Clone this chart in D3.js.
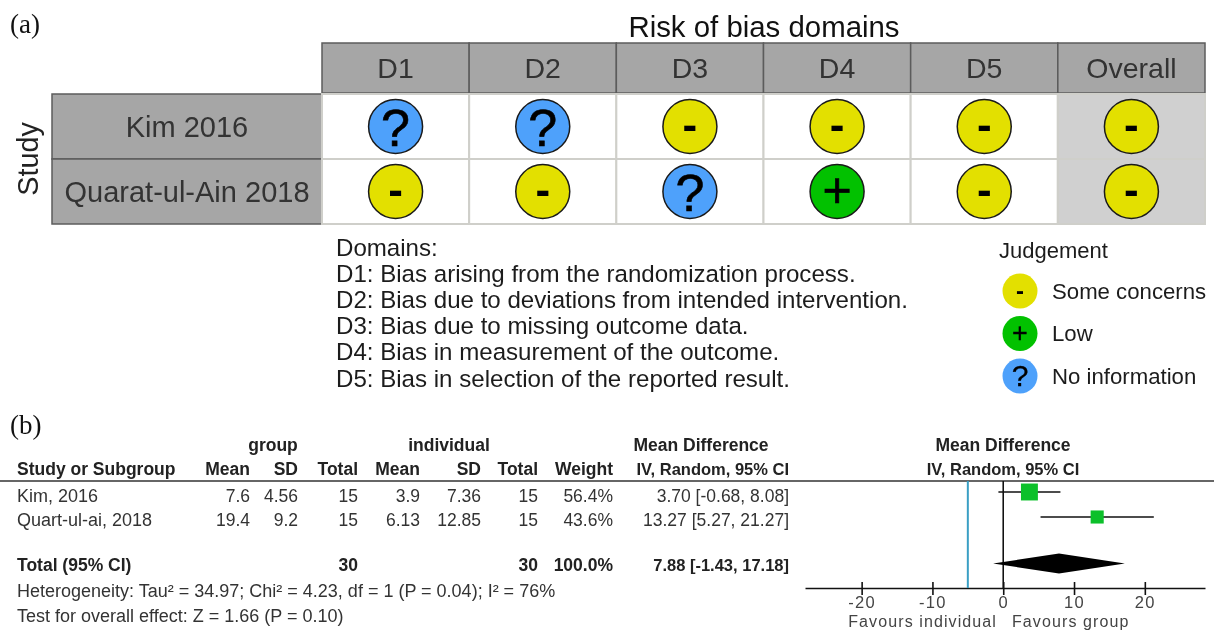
<!DOCTYPE html>
<html>
<head>
<meta charset="utf-8">
<style>
    html, body { margin: 0; padding: 0; background: #fff; overflow: hidden; }
    svg { display: block; filter: blur(0.4px); }
    text { font-family: "Liberation Sans", Arial, sans-serif; }
</style>
<script src="https://d3js.org/d3.v7.min.js"></script>
</head>
<body>
<svg></svg>
<script>
// Panel (a): risk of bias data
const domains = ["D1", "D2", "D3", "D4", "D5", "Overall"];
const studies = ["Kim 2016", "Quarat-ul-Ain 2018"];
const judgements = [
    ["?", "?", "-", "-", "-", "-"],
    ["-", "-", "?", "+", "-", "-"]
];
const domainNotes = [
    "Domains:",
    "D1: Bias arising from the randomization process.",
    "D2: Bias due to deviations from intended intervention.",
    "D3: Bias due to missing outcome data.",
    "D4: Bias in measurement of the outcome.",
    "D5: Bias in selection of the reported result."
];
const legendSymbols = ["-", "+", "?"];
const legendLabels = ["Some concerns", "Low", "No information"];

// Panel (b): forest plot data
const forestStudies = ["Kim, 2016", "Quart-ul-ai, 2018"];
const groupMean = ["7.6", "19.4"];
const groupSD = ["4.56", "9.2"];
const groupTotal = ["15", "15"];
const indivMean = ["3.9", "6.13"];
const indivSD = ["7.36", "12.85"];
const indivTotal = ["15", "15"];
const weights = [56.4, 43.6];
const meanDiff = [3.70, 13.27];
const ciLow = [-0.68, 5.27];
const ciHigh = [8.08, 21.27];
const totalMean = 7.88, totalLow = -1.43, totalHigh = 17.18;
const axisTicks = [-20, -10, 0, 10, 20];

const width = 1214, height = 631;
const svg = d3.select("svg").attr("width", width).attr("height", height);

const symbolColor = {"-": "#e3e000", "+": "#02c100", "?": "#4ea1fb"};

function label(sel, x, y, str, size, opts) {
    opts = opts || {};
    return sel.append("text")
        .attr("x", x).attr("y", y)
        .attr("text-anchor", opts.anchor || "start")
        .attr("dominant-baseline", "central")
        .attr("fill", opts.fill || "#222")
        .attr("font-size", size)
        .attr("font-weight", opts.weight || "normal")
        .text(str);
}

// ---- panel a ----
const xCol = d3.scaleBand().domain(domains).range([322, 1205]);
const yRow = d3.scaleBand().domain(studies).range([94, 224]);

label(svg, 10, 24, "(a)", 27, {fill: "#111"}).style("font-family", "'Liberation Serif', serif");
label(svg, 764, 26, "Risk of bias domains", 29.4, {anchor: "middle", fill: "#111"});

// Header strip
svg.append("g").selectAll("rect").data(domains).enter().append("rect")
    .attr("x", d => xCol(d)).attr("y", 43)
    .attr("width", xCol.bandwidth()).attr("height", 50)
    .attr("fill", "#a6a6a6").attr("stroke", "#5c5c5c").attr("stroke-width", 1.5);
domains.forEach(d => label(svg, xCol(d) + xCol.bandwidth() / 2, 68, d, 28.5, {anchor: "middle", fill: "#333"}));

// Study strip
svg.append("g").selectAll("rect").data(studies).enter().append("rect")
    .attr("x", 52).attr("y", d => yRow(d))
    .attr("width", 270).attr("height", yRow.bandwidth())
    .attr("fill", "#a6a6a6").attr("stroke", "#5c5c5c").attr("stroke-width", 1.5);
studies.forEach(d => label(svg, 187, yRow(d) + yRow.bandwidth() / 2, d, 29, {anchor: "middle", fill: "#333"}));

svg.append("text")
    .attr("transform", "translate(28,159) rotate(-90)")
    .attr("text-anchor", "middle").attr("dominant-baseline", "central")
    .attr("font-size", 28.8).attr("fill", "#222").text("Study");

// Cells, then judgement circles on top of the cell borders
studies.forEach(s => {
    domains.forEach(d => {
        svg.append("rect")
            .attr("x", xCol(d)).attr("y", yRow(s))
            .attr("width", xCol.bandwidth()).attr("height", yRow.bandwidth())
            .attr("fill", d === "Overall" ? "#d0d0d0" : "#fff")
            .attr("stroke", "#cfcfca").attr("stroke-width", 2);
    });
});
function symbol(cx, cy, j, big) {
    const sizes = big ? {"?": 52, "+": 50, "-": 44} : {"?": 30, "+": 27, "-": 24};
    return label(svg, cx, cy, j, sizes[j], {anchor: "middle", fill: "#000", weight: j === "-" ? "bold" : "normal"})
        .attr("stroke", j === "-" ? "none" : "#000")
        .attr("stroke-width", big ? 0.6 : 0.3);
}
studies.forEach((s, r) => {
    domains.forEach((d, c) => {
        const cx = xCol(d) + xCol.bandwidth() / 2;
        const cy = yRow(s) + yRow.bandwidth() / 2;
        const j = judgements[r][c];
        svg.append("circle").attr("cx", cx).attr("cy", cy).attr("r", 27)
            .attr("fill", symbolColor[j]).attr("stroke", "#1a1a1a").attr("stroke-width", 1.5);
        symbol(cx, cy + (j === "?" ? 1 : -2), j, true);
    });
});

// Domain notes
const yNote = d3.scalePoint().domain(d3.range(domainNotes.length)).range([247, 378]);
domainNotes.forEach((t, i) => label(svg, 336, yNote(i), t, 24.1, {fill: "#1c1c1c"}));

// Legend
label(svg, 999, 250, "Judgement", 22, {fill: "#1c1c1c"});
const yLegend = d3.scalePoint().domain(legendLabels).range([291, 376]);
legendLabels.forEach((t, i) => {
    svg.append("circle").attr("cx", 1020).attr("cy", yLegend(t)).attr("r", 17.5)
        .attr("fill", symbolColor[legendSymbols[i]]);
    symbol(1020, yLegend(t) - 1, legendSymbols[i], false);
    label(svg, 1052, yLegend(t), t, 22.2, {fill: "#1c1c1c"});
});

// ---- panel b ----
label(svg, 10, 425, "(b)", 27, {fill: "#111"}).style("font-family", "'Liberation Serif', serif");

const tableSize = 17.5;
const noteSize = 18;
const bold = {weight: "bold", fill: "#222"};
const right = {anchor: "end", fill: "#333"};
const boldRight = {anchor: "end", weight: "bold", fill: "#222"};
const boldMiddle = {anchor: "middle", weight: "bold", fill: "#222"};
const colRight = [250, 298, 358, 420, 481, 538, 613, 789];

label(svg, 273, 445, "group", tableSize, boldMiddle);
label(svg, 449, 445, "individual", tableSize, boldMiddle);
label(svg, 701, 445, "Mean Difference", tableSize, boldMiddle);
label(svg, 17, 469, "Study or Subgroup", tableSize, bold);
["Mean", "SD", "Total", "Mean", "SD", "Total", "Weight", "IV, Random, 95% CI"]
    .forEach((t, i) => label(svg, colRight[i], 469, t, i === 7 ? 16.5 : tableSize, boldRight));

const yStudy = d3.scalePoint().domain(forestStudies).range([492, 517]);
const yText = d3.scalePoint().domain(forestStudies).range([496, 520]);
const fmt = v => d3.format(".2f")(v).replace("\u2212", "-");
forestStudies.forEach((s, i) => {
    label(svg, 17, yText(s), s, noteSize, {fill: "#333"});
    [groupMean[i], groupSD[i], groupTotal[i], indivMean[i], indivSD[i], indivTotal[i], weights[i] + "%",
        fmt(meanDiff[i]) + " [" + fmt(ciLow[i]) + ", " + fmt(ciHigh[i]) + "]"]
        .forEach((t, k) => label(svg, colRight[k], yText(s), t, tableSize, right));
});

label(svg, 17, 565, "Total (95% CI)", tableSize, bold);
label(svg, colRight[2], 565, "30", tableSize, boldRight);
label(svg, colRight[5], 565, "30", tableSize, boldRight);
label(svg, colRight[6], 565, "100.0%", tableSize, boldRight);
label(svg, colRight[7], 565, fmt(totalMean) + " [" + fmt(totalLow) + ", " + fmt(totalHigh) + "]", 16.5, boldRight);
label(svg, 17, 591, "Heterogeneity: Tau\u00b2 = 34.97; Chi\u00b2 = 4.23, df = 1 (P = 0.04); I\u00b2 = 76%", noteSize, {fill: "#333"});
label(svg, 17, 616, "Test for overall effect: Z = 1.66 (P = 0.10)", noteSize, {fill: "#333"});

label(svg, 1003, 445, "Mean Difference", tableSize, boldMiddle);
label(svg, 1003, 469, "IV, Random, 95% CI", 16.5, boldMiddle);

// Header rule
svg.append("line").attr("x1", 0).attr("x2", width).attr("y1", 481).attr("y2", 481)
    .attr("stroke", "#333").attr("stroke-width", 1.7);

// Forest
const xForest = d3.scaleLinear().domain([-28, 28.5]).range([805, 1205]);
const axisY = 588;
const xAxis = d3.axisBottom(xForest).tickValues(axisTicks).tickSize(7).tickSizeOuter(0).tickPadding(1)
    .tickFormat(d => d < 0 ? "-" + Math.abs(d) : d);
const axisG = svg.append("g").attr("transform", "translate(0," + axisY + ")").call(xAxis);
axisG.select(".domain").attr("stroke", "#111").attr("stroke-width", 1.6);
axisG.selectAll(".tick line").attr("y1", -6).attr("stroke", "#111").attr("stroke-width", 1.6);
axisG.selectAll(".tick text").attr("font-size", 16.5).attr("fill", "#444")
    .attr("font-family", "'Liberation Sans', sans-serif").attr("letter-spacing", 1.3);

svg.append("line").attr("x1", xForest(0)).attr("x2", xForest(0)).attr("y1", 481).attr("y2", axisY)
    .attr("stroke", "#111").attr("stroke-width", 1.6);
svg.append("line").attr("x1", xForest(-5)).attr("x2", xForest(-5)).attr("y1", 481).attr("y2", axisY)
    .attr("stroke", "#3a9fc4").attr("stroke-width", 2);

const sizeScale = d3.scaleLinear().domain([0, 100]).range([0, 30]);
forestStudies.forEach((s, i) => {
    svg.append("line").attr("x1", xForest(ciLow[i])).attr("x2", xForest(ciHigh[i]))
        .attr("y1", yStudy(s)).attr("y2", yStudy(s)).attr("stroke", "#111").attr("stroke-width", 1.6);
    const side = sizeScale(weights[i]);
    svg.append("rect").attr("x", xForest(meanDiff[i]) - side / 2).attr("y", yStudy(s) - side / 2)
        .attr("width", side).attr("height", side).attr("fill", "#0cc02a");
});

const yDiamond = 563.5;
svg.append("path")
    .attr("d", d3.line()([
        [xForest(totalLow), yDiamond],
        [xForest(totalMean), yDiamond - 10],
        [xForest(totalHigh), yDiamond],
        [xForest(totalMean), yDiamond + 10]
    ]) + "Z")
    .attr("fill", "#000");

label(svg, 997, 621.5, "Favours individual", 16, {anchor: "end", fill: "#444"}).attr("letter-spacing", 1.1);
label(svg, 1012, 621.5, "Favours group", 16, {fill: "#444"}).attr("letter-spacing", 1.1);
</script>
</body>
</html>
